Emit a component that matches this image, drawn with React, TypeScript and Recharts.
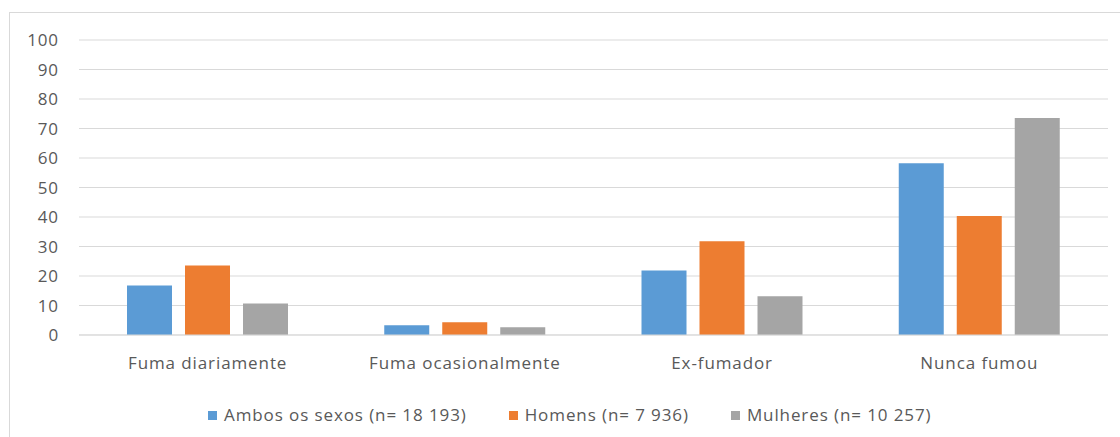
import React from "react";
import { BarChart, Bar, XAxis, YAxis, CartesianGrid, Legend } from "recharts";

const categories = ["Fuma diariamente", "Fuma ocasionalmente", "Ex-fumador", "Nunca fumou"];
const ambos = [16.8, 3.3, 21.9, 58.2];
const homens = [23.6, 4.3, 31.8, 40.3];
const mulheres = [10.7, 2.6, 13.1, 73.6];
const yTicks = [0, 10, 20, 30, 40, 50, 60, 70, 80, 90, 100];
const seriesNames = ["Ambos os sexos (n= 18 193)", "Homens (n= 7 936)", "Mulheres (n= 10 257)"];

const data = categories.map((c, i) => ({
  cat: c,
  ambos: ambos[i],
  homens: homens[i],
  mulheres: mulheres[i],
}));

const FONT = "'Open Sans', sans-serif";
const TXT = "#595959";

const renderLegend = (props: any) => {
  const { payload } = props;
  return (
    <div style={{ display: "flex", whiteSpace: "nowrap", fontFamily: FONT, fontSize: 17, letterSpacing: 0.9, color: TXT, lineHeight: "24px" }}>
      {payload.map((entry: any, i: number) => (
        <span key={i} style={{ display: "inline-flex", alignItems: "center", marginRight: 42 }}>
          <span style={{ display: "inline-block", width: 9, height: 9, background: entry.color, marginRight: 7 }} />
          {entry.value}
        </span>
      ))}
    </div>
  );
};

export default function App() {
  return (
    <div
      style={{
        position: "absolute",
        left: 9,
        top: 12,
        width: 1115,
        height: 430,
        border: "1px solid #D9D9D9",
        background: "#fff",
        overflow: "hidden",
      }}
    >
      <BarChart
        width={1100}
        height={424}
        data={data}
        margin={{ top: 27, right: 2, bottom: 62, left: 0 }}
        barSize={45}
        barGap={13}
      >
        <CartesianGrid vertical={false} stroke="#D9D9D9" />
        <XAxis
          dataKey="cat"
          axisLine={{ stroke: "#D9D9D9" }}
          tickLine={false}
          tickMargin={16}
          height={40}
          tick={{ fill: TXT, fontSize: 17, fontFamily: FONT, letterSpacing: 0.9 }}
        />
        <YAxis
          domain={[0, 100]}
          ticks={yTicks}
          width={69}
          axisLine={false}
          tickLine={false}
          tickMargin={14}
          interval={0}
          tick={{ fill: TXT, fontSize: 17, fontFamily: FONT, letterSpacing: 0.9 }}
        />
        <Legend
          layout="horizontal"
          verticalAlign="middle"
          align="center"
          content={renderLegend}
          wrapperStyle={{ left: 198, top: 390, width: 850, height: 24 }}
        />
        <Bar dataKey="ambos" name={seriesNames[0]} fill="#5B9BD5" isAnimationActive={false} />
        <Bar dataKey="homens" name={seriesNames[1]} fill="#ED7D31" isAnimationActive={false} />
        <Bar dataKey="mulheres" name={seriesNames[2]} fill="#A5A5A5" isAnimationActive={false} />
      </BarChart>
    </div>
  );
}
